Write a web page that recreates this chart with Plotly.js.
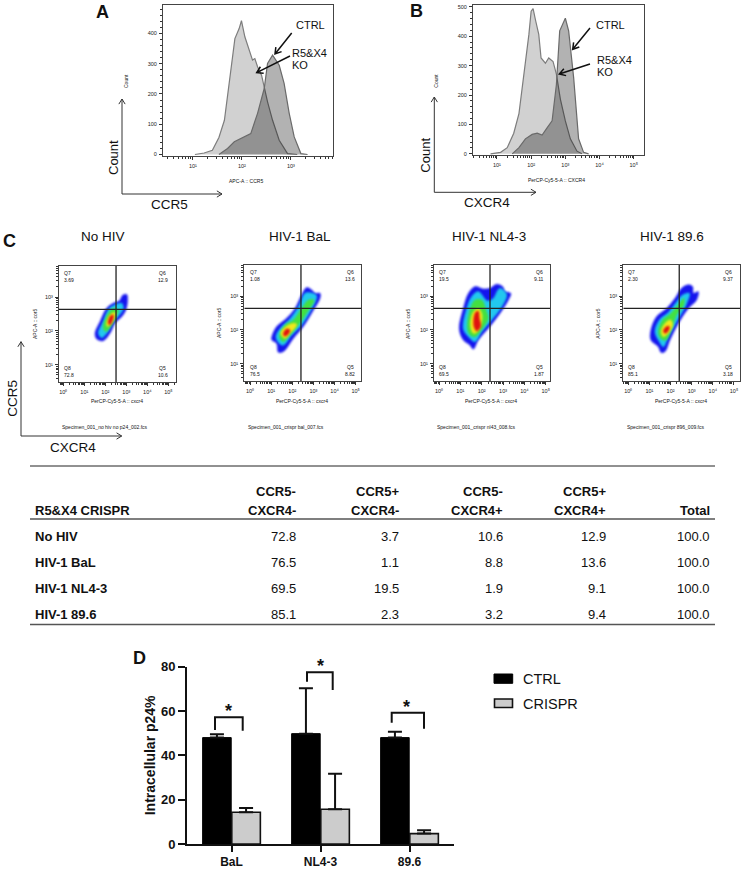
<!DOCTYPE html>
<html><head><meta charset="utf-8">
<script src="https://cdn.plot.ly/plotly-3.0.1.min.js"></script>
<style>html,body{margin:0;padding:0;background:#fff}#c{width:744px;height:869px}</style>
</head><body><div id="c"></div>
<script>
// Panel A histogram (CCR5)
const aKoX=[11,17,25,34,44,51,60,72,88,98,115,141,165,184,209,252,286,334,423,578,855,1350];
const aKoY=[0,5,14,56,113,191,290,383,416,442,389,345,312,317,290,262,218,174,113,47,3,0];
const aCtrlX=[34,51,70,111,152,209,286,334,423,578,728,925,1170,1600,2190];
const aCtrlY=[0,20,42,58,69,136,218,301,328,295,235,136,58,3,0];
// Panel B histogram (CXCR4)
const bKoX=[6.5,12.8,20,31,44,61,86,100,114,134,167,195,261,327,437,547,715,1000,1400,2190,3050];
const bKoY=[0,5,21,70,137,259,406,485,494,455,406,326,308,326,314,271,186,112,51,9,0];
const bCtrlX=[28,44,68,107,150,209,292,410,547,684,1000,1250,1750,2440,3420,4790];
const bCtrlY=[0,21,51,66,70,64,88,112,235,418,461,418,259,51,5,0];
// Panel C density contours, log10 units, outer to inner level
const noHivBlueX=[1.51,1.75,2.06,2.38,2.67,2.83,3.02,3.06,2.98,2.78,2.46,2.22,1.90,1.59];
const noHivBlueY=[1.93,2.28,2.67,2.82,2.89,3.06,3.08,2.92,2.62,2.42,2.23,1.93,1.71,1.76];
const noHivCyanX=[1.67,1.90,2.19,2.46,2.78,2.86,2.67,2.38,2.10,1.83];
const noHivCyanY=[1.93,2.28,2.67,2.77,2.82,2.67,2.47,2.28,1.96,1.80];
const noHivGreenX=[1.90,2.14,2.38,2.62,2.54,2.30,2.03];
const noHivGreenY=[2.08,2.52,2.67,2.62,2.47,2.18,1.98];
const noHivYellowX=[2.06,2.22,2.46,2.46,2.25,2.10];
const noHivYellowY=[2.23,2.47,2.55,2.42,2.20,2.13];
const noHivRedX=[2.14,2.25,2.38,2.35,2.22];
const noHivRedY=[2.23,2.45,2.47,2.33,2.18];

const balBlueX=[1.03,1.26,1.73,2.13,2.44,2.68,2.92,3.08,3.31,3.31,3.0,2.52,2.05,1.58,1.34,1.26,1.03];
const balBlueY=[1.80,2.10,2.35,2.64,3.04,3.26,3.19,3.09,3.09,2.94,2.59,2.10,1.75,1.36,1.34,1.60,1.70];
const balCyanX=[1.23,1.50,1.89,2.29,2.60,2.76,3.15,2.92,2.44,1.97,1.58,1.39];
const balCyanY=[1.80,2.10,2.33,2.69,3.09,3.11,3.02,2.64,2.15,1.85,1.55,1.60];
const balGreenX=[1.39,1.66,2.05,2.44,2.76,3.03,2.68,2.29,1.81,1.58];
const balGreenY=[1.80,2.15,2.30,2.64,2.89,2.89,2.50,2.15,1.80,1.65];
const balYellowX=[1.45,1.73,2.13,2.21,1.89,1.66];
const balYellowY=[1.90,2.12,2.20,2.15,1.90,1.75];
const balRedX=[1.58,1.73,1.89,1.77,1.62];
const balRedY=[1.90,2.03,2.00,1.85,1.82];

const nlBlueX=[0.95,1.14,1.38,1.69,2.08,2.39,2.70,2.98,3.09,3.36,3.25,2.86,2.31,1.84,1.61,1.45,1.14];
const nlBlueY=[2.03,2.64,3.09,3.29,3.22,3.24,3.36,3.29,3.14,3.09,2.89,2.50,2.05,1.70,1.43,1.55,1.70];
const nlCyanX=[1.14,1.30,1.53,1.84,2.27,2.55,2.73,2.86,3.17,2.94,2.47,2.0,1.69,1.38];
const nlCyanY=[2.03,2.64,2.99,3.14,2.86,2.94,3.16,3.24,3.06,2.69,2.30,1.95,1.65,1.80];
const nlGreenX=[1.33,1.45,1.69,2.0,2.23,2.31,1.92,1.69,1.45];
const nlGreenY=[2.05,2.59,2.89,2.89,2.54,2.35,1.95,1.80,1.85];
const nlYellowX=[1.48,1.58,1.84,2.0,2.0,1.80,1.61];
const nlYellowY=[2.10,2.50,2.64,2.50,2.25,1.95,1.90];
const nlRedX=[1.64,1.69,1.84,1.89,1.95,1.77];
const nlRedY=[2.10,2.50,2.56,2.35,2.10,1.97];

const v89BlueX=[1.07,1.34,1.81,2.21,2.52,2.84,3.04,3.08,3.31,3.23,2.84,2.37,1.97,1.74,1.55,1.42,1.07];
const v89BlueY=[2.0,2.40,2.64,2.94,3.24,3.34,3.29,3.09,3.14,2.89,2.64,2.20,1.70,1.36,1.33,1.50,1.70];
const v89CyanX=[1.26,1.47,1.89,2.29,2.57,2.89,2.73,2.29,1.89,1.66,1.47];
const v89CyanY=[1.95,2.30,2.52,2.84,3.04,3.09,2.74,2.25,1.80,1.50,1.65];
const v89GreenX=[1.42,1.62,1.97,2.41,2.63,2.63,2.29,2.05,1.78,1.53];
const v89GreenY=[1.95,2.30,2.47,2.79,2.94,2.74,2.45,2.05,1.70,1.75];
const v89YellowX=[1.55,1.74,2.0,2.10,1.89,1.66];
const v89YellowY=[1.95,2.20,2.30,2.15,1.90,1.80];
const v89RedX=[1.66,1.81,1.94,1.89,1.74];
const v89RedY=[1.97,2.10,2.10,1.97,1.90];

const gateX=[2.51,2.41,2.39,2.41];
const gateY=[2.64,2.64,2.64,2.64];
const decadeLabels=['10⁰','10¹','10²','10³','10⁴','10⁵'];
const flowTitles=['No HIV','HIV-1 BaL','HIV-1 NL4-3','HIV-1 89.6'];
const specimens=['Specimen_001_no hiv no p24_002.fcs','Specimen_001_crispr bal_007.fcs','Specimen_001_crispr nl43_008.fcs','Specimen_001_crispr 896_009.fcs'];
const q7=['3.69','1.08','19.5','2.30'];
const q6=['12.9','13.6','9.11','9.37'];
const q8=['72.8','76.5','69.5','85.1'];
const q5=['10.6','8.82','1.87','3.18'];

// Table
const tableCorner='R5&X4 CRISPR';
const tableHead=['CCR5-<br>CXCR4-','CCR5+<br>CXCR4-','CCR5-<br>CXCR4+','CCR5+<br>CXCR4+','Total'];
const tableRows=['No HIV','HIV-1 BaL','HIV-1 NL4-3','HIV-1 89.6'];
const colNegNeg=['72.8','76.5','69.5','85.1'];
const colPosNeg=['3.7','1.1','19.5','2.3'];
const colNegPos=['10.6','8.8','1.9','3.2'];
const colPosPos=['12.9','13.6','9.1','9.4'];
const colTotal=['100.0','100.0','100.0','100.0'];

// Panel D
const strains=['BaL','NL4-3','89.6'];
const ctrlP24=[48,49.8,48];
const ctrlErr=[1.5,20.5,2.7];
const crisprP24=[14.3,15.7,4.7];
const crisprErr=[2,16,1.5];

const W=744,H=869,FONT='Liberation Sans, Arial, sans-serif',TINY=5;
const X=p=>p/W, Y=p=>1-p/H;
const annotations=[],shapes=[],traces=[];
function txt(text,x,y,size,o){annotations.push(Object.assign({text,x:X(x),y:Y(y),xref:'paper',yref:'paper',showarrow:false,xanchor:'center',yanchor:'middle',font:{family:FONT,size,color:'#111'}},o||{}));}
function arrow(x0,y0,x1,y1,o){
  const opt=Object.assign({w:1.5,c:'#111',h:7},o||{});
  const a=Math.atan2(y1-y0,x1-x0),s=0.55;
  const hx=t=>x1-opt.h*Math.cos(a+t),hy=t=>y1-opt.h*Math.sin(a+t);
  shapes.push({type:'path',xref:'paper',yref:'paper',path:`M${X(x0)},${Y(y0)}L${X(x1)},${Y(y1)}M${X(hx(s))},${Y(hy(s))}L${X(x1)},${Y(y1)}L${X(hx(-s))},${Y(hy(-s))}`,line:{width:opt.w,color:opt.c}});
}
function rule(x0,y0,x1,y1,w,c){shapes.push({type:'line',xref:'paper',yref:'paper',x0:X(x0),y0:Y(y0),x1:X(x1),y1:Y(y1),line:{width:w,color:c||'#222'}});}
function bracket(x0,yL,yT,x1,yR){shapes.push({type:'path',xref:'paper',yref:'paper',path:`M${X(x0)},${Y(yL)}L${X(x0)},${Y(yT)}L${X(x1)},${Y(yT)}L${X(x1)},${Y(yR)}`,line:{width:2,color:'#111'}});}
const dec=[];for(let d=-1;d<6;d++)for(let m=2;m<10;m++)dec.push(d+Math.log10(m));
const layout={width:W,height:H,margin:{l:0,r:0,t:0,b:0},paper_bgcolor:'#fff',plot_bgcolor:'rgba(0,0,0,0)',showlegend:false,font:{family:FONT,color:'#111'},annotations,shapes};
function frameAxis(dom,range,extra){return Object.assign({domain:dom,range,showline:true,mirror:true,linecolor:'#444',linewidth:1,showgrid:false,zeroline:false,ticks:'outside',ticklen:3,tickwidth:1,tickcolor:'#333',tickfont:{family:FONT,size:TINY+0.5,color:'#222'},fixedrange:true,ticklabelstandoff:1},extra||{});}

// Panels A & B
function histPanel(n,l,r,t,b,xr,yr,xticks,yticks,ydtick,ko,ctrl){
  const sx=n===1?'':n;
  const mv=[];for(let d=0;d<6;d++)for(let m=2;m<10;m++)mv.push(m*Math.pow(10,d));
  layout['xaxis'+sx]=frameAxis([X(l),X(r)],xr,{type:'log',anchor:'y'+sx,tickmode:'array',tickvals:xticks,ticktext:xticks.map(v=>decadeLabels[Math.round(Math.log10(v))]),minor:{tickmode:'array',tickvals:mv,ticks:'outside',ticklen:2,tickcolor:'#333'}});
  layout['yaxis'+sx]=frameAxis([Y(b),Y(t)],yr,{anchor:'x'+sx,tickmode:'array',tickvals:yticks,minor:{dtick:ydtick,ticks:'outside',ticklen:2,tickcolor:'#333'}});
  traces.push({type:'scatter',mode:'lines',x:ko[0],y:ko[1],xaxis:'x'+sx,yaxis:'y'+sx,fill:'tozeroy',fillcolor:'rgba(0,0,0,0.18)',line:{color:'#7d7d7d',width:1.2},name:'R5&X4 KO'});
  traces.push({type:'scatter',mode:'lines',x:ctrl[0],y:ctrl[1],xaxis:'x'+sx,yaxis:'y'+sx,fill:'tozeroy',fillcolor:'rgba(0,0,0,0.3)',line:{color:'#6a6a6a',width:1.2},name:'CTRL'});
}
histPanel(1,163,333,5,156,[0.39,3.86],[-5,494],[10,100,1000],[0,100,200,300,400],20,[aKoX,aKoY],[aCtrlX,aCtrlY]);
histPanel(2,473,644,5,155,[0.3,5.3],[-4,506],[10,100,1000,10000,100000],[0,100,200,300,400,500],20,[bKoX,bKoY],[bCtrlX,bCtrlY]);

// Panel C
const flow=[
 {l:59,r:176,t:266,b:382,xr:[-0.206,5.365],yr:[0.49,3.92],ax:[35,324],tx:116.7,tc:103,sc:105,q:[64.3,162.7],lv:[[noHivBlueX,noHivBlueY],[noHivCyanX,noHivCyanY],[noHivGreenX,noHivGreenY],[noHivYellowX,noHivYellowY],[noHivRedX,noHivRedY]]},
 {l:244.3,r:361,t:265,b:381,xr:[-0.27,5.25],yr:[0.485,3.93],ax:[219,323],tx:301.7,tc:300,sc:286,q:[250,350],lv:[[balBlueX,balBlueY],[balCyanX,balCyanY],[balGreenX,balGreenY],[balYellowX,balYellowY],[balRedX,balRedY]]},
 {l:434,r:550,t:265,b:381,xr:[-0.234,5.2],yr:[0.485,3.93],ax:[408,323],tx:491,tc:489,sc:476,q:[439,539],lv:[[nlBlueX,nlBlueY],[nlCyanX,nlCyanY],[nlGreenX,nlGreenY],[nlYellowX,nlYellowY],[nlRedX,nlRedY]]},
 {l:623.3,r:740,t:265,b:381,xr:[-0.237,5.285],yr:[0.485,3.93],ax:[597.7,323],tx:680.7,tc:672,sc:665,q:[628,728],lv:[[v89BlueX,v89BlueY],[v89CyanX,v89CyanY],[v89GreenX,v89GreenY],[v89YellowX,v89YellowY],[v89RedX,v89RedY]]}
];
const levelColors=['#1414ee','#22c8ee','#44e040','#f2e81c','#e01010'];
flow.forEach((f,i)=>{
  const s=i+3;
  layout['xaxis'+s]=frameAxis([X(f.l),X(f.r)],f.xr,{anchor:'y'+s,tickmode:'array',tickvals:[0,1,2,3,4,5],ticktext:decadeLabels,minor:{tickmode:'array',tickvals:dec.filter(v=>v>f.xr[0]&&v<f.xr[1]),ticks:'outside',ticklen:2,tickcolor:'#333'}});
  layout['yaxis'+s]=frameAxis([Y(f.b),Y(f.t)],f.yr,{anchor:'x'+s,tickmode:'array',tickvals:[1,2,3],ticktext:decadeLabels.slice(1,4),minor:{tickmode:'array',tickvals:dec.filter(v=>v>f.yr[0]&&v<f.yr[1]),ticks:'outside',ticklen:2,tickcolor:'#333'}});
  f.lv.forEach((p,j)=>traces.push({type:'scatter',mode:'lines',x:p[0].concat(p[0][0]),y:p[1].concat(p[1][0]),xaxis:'x'+s,yaxis:'y'+s,fill:'toself',fillcolor:levelColors[j],line:{color:levelColors[j],width:0.5,shape:'spline',smoothing:1},hoverinfo:'skip'}));
  traces.push({type:'scatter',mode:'lines',x:[gateX[i],gateX[i]],y:f.yr,xaxis:'x'+s,yaxis:'y'+s,line:{color:'#222',width:1.3},hoverinfo:'skip'});
  traces.push({type:'scatter',mode:'lines',x:f.xr,y:[gateY[i],gateY[i]],xaxis:'x'+s,yaxis:'y'+s,line:{color:'#222',width:1.3},hoverinfo:'skip'});
  txt(flowTitles[i],f.tc,237,13.5);
  txt('PerCP-Cy5-5-A :: cxcr4',f.tx,401,TINY);
  txt('APC-A :: cor5',f.ax[0],f.ax[1],TINY,{textangle:-90});
  txt(specimens[i],f.sc,427.5,TINY);
  txt('Q7',f.q[0],f.t+7,TINY,{xanchor:'left',x:X(f.q[0]-2)});
  txt(q7[i],f.q[0],f.t+14,TINY,{xanchor:'left',x:X(f.q[0]-2)});
  txt('Q6',f.q[1],f.t+7,TINY);
  txt(q6[i],f.q[1],f.t+14,TINY);
  txt('Q8',f.q[0],f.t+102,TINY,{xanchor:'left',x:X(f.q[0]-2)});
  txt(q8[i],f.q[0],f.t+109,TINY,{xanchor:'left',x:X(f.q[0]-2)});
  txt('Q5',f.q[1],f.t+102,TINY);
  txt(q5[i],f.q[1],f.t+109,TINY);
});

// Panel D
layout.xaxis7={domain:[X(187),X(454)],range:[-0.5,2.5],anchor:'y7',type:'category',showline:true,linecolor:'#111',linewidth:2,ticks:'outside',ticklen:6,tickwidth:2,tickcolor:'#111',tickfont:{family:FONT,size:12,color:'#111',weight:'bold'},showgrid:false,zeroline:false,fixedrange:true};
layout.yaxis7={domain:[Y(844),Y(666.7)],range:[0,80],anchor:'x7',showline:true,linecolor:'#111',linewidth:2,ticks:'outside',ticklen:7,tickwidth:2,tickcolor:'#111',tickvals:[0,20,40,60,80],tickfont:{family:FONT,size:13,color:'#111',weight:'bold'},showgrid:false,zeroline:false,fixedrange:true,title:{text:'Intracellular p24%',font:{family:FONT,size:14,color:'#111',weight:'bold'},standoff:2}};
layout.barmode='group';layout.bargap=0.345;layout.bargroupgap=0.02;
traces.push({type:'bar',name:'CTRL',x:strains,y:ctrlP24,xaxis:'x7',yaxis:'y7',marker:{color:'#000',line:{color:'#000',width:1}},error_y:{type:'data',symmetric:false,array:ctrlErr,arrayminus:[0,0,0],color:'#111',thickness:2,width:7}});
traces.push({type:'bar',name:'CRISPR',x:strains,y:crisprP24,xaxis:'x7',yaxis:'y7',marker:{color:'#cccccc',line:{color:'#111',width:1.6}},error_y:{type:'data',symmetric:false,array:crisprErr,arrayminus:[0,0,0],color:'#111',thickness:2,width:7}});
bracket(215,730,717.3,242.7,730.7);
bracket(307,681.7,672.3,332.7,690);
bracket(391.7,722.7,712.7,424,728.7);
txt('<b>*</b>',228.7,711,18);
txt('<b>*</b>',320,666,18);
txt('<b>*</b>',407,706.5,18);
shapes.push({type:'rect',xref:'paper',yref:'paper',x0:X(494),x1:X(512.7),y0:Y(683.3),y1:Y(674),fillcolor:'#000',line:{color:'#000',width:1}});
shapes.push({type:'rect',xref:'paper',yref:'paper',x0:X(494.5),x1:X(512.5),y0:Y(707.5),y1:Y(699),fillcolor:'#cccccc',line:{color:'#111',width:1.6}});
txt('CTRL',521,679,14.5,{xanchor:'left'});
txt('CRISPR',521,703.5,14.5,{xanchor:'left'});

// Panel labels
txt('<b>A</b>',103,12,18);txt('<b>B</b>',417,11,18);txt('<b>C</b>',9,241,18);txt('<b>D</b>',139,658,18);

// A & B annotations
txt('CTRL',294,25,11,{xanchor:'left'});
txt('R5&X4',290,52.7,11,{xanchor:'left'});
txt('KO',290,65,11,{xanchor:'left'});
arrow(291.7,33,275,54);arrow(290,56,256.7,72.7);
txt('CTRL',594,25,11,{xanchor:'left'});
txt('R5&X4',595,60,11,{xanchor:'left'});
txt('KO',595,72,11,{xanchor:'left'});
arrow(590,28,572.7,49.3);arrow(590,64,559.3,74);
// large L-shaped axes
[[122,194,99,222],[434.3,192.3,97,536],[21,436,341.7,121.7]].forEach(a=>{arrow(a[0],a[1],a[0],a[2],{c:'#333',w:1,h:6});arrow(a[0],a[1],a[3],a[1],{c:'#333',w:1,h:6});});
txt('Count',113,158,13,{textangle:-90});
txt('CCR5',169,205,13.5);
txt('Count',426,155.7,13,{textangle:-90});
txt('CXCR4',487,202,13.5);
txt('CCR5',11.7,398,13.5,{textangle:-90});
txt('CXCR4',72.7,447,13.5);
txt('Count',126,81,TINY,{textangle:-90});
txt('Count',436,80.7,TINY,{textangle:-90});
txt('APC-A :: CCR5',246,181,TINY);
txt('PerCP-Cy5-5-A :: CXCR4',556,180,TINY);

// Table
rule(30,466,715,466,1,'#222');rule(30,519,715,519,1.5,'#555');rule(30,624.5,715,624.5,1.5,'#555');
txt('<b>'+tableCorner+'</b>',33,510.5,13,{xanchor:'left'});
const colRight=[298,401,505,608,712];
tableHead.forEach((h,i)=>{
  if(h.includes('<br>')){const p=h.split('<br>');txt('<b>'+p[0]+'</b>',colRight[i],491.5,13,{xanchor:'right'});txt('<b>'+p[1]+'</b>',colRight[i],510.5,13,{xanchor:'right'});}
  else txt('<b>'+h+'</b>',colRight[i],510.5,13,{xanchor:'right'});
});
const rowY=[536.5,562.5,588.5,614];
tableRows.forEach((r,i)=>{
  txt('<b>'+r+'</b>',33,rowY[i],13,{xanchor:'left'});
  [colNegNeg,colPosNeg,colNegPos,colPosPos,colTotal].forEach((c,j)=>txt(c[i],colRight[j],rowY[i],13,{xanchor:'right'}));
});

Plotly.newPlot('c',traces,layout,{displayModeBar:false,staticPlot:true}).then(()=>{
  [3,4,5,6].forEach(s=>{
    const tr=document.querySelectorAll('.subplot.x'+s+'y'+s+' .scatterlayer .trace');
    tr.forEach((t,k)=>{if(k<tr.length-2)t.style.filter='blur(0.8px)';});
  });
});
</script></body></html>
